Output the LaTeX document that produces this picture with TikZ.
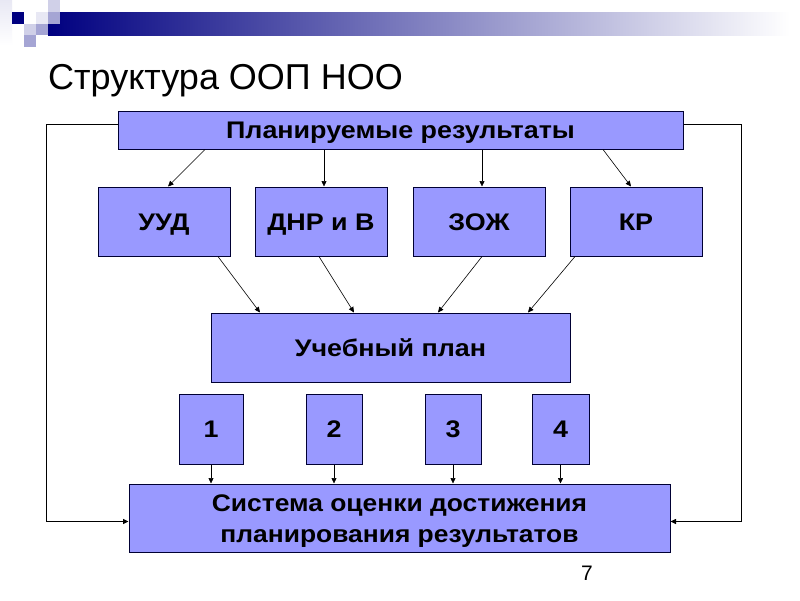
\documentclass[tikz,border=0pt]{standalone}
\usepackage{fontspec}
\setmainfont{Liberation Sans}
\newfontfamily\boxfont{Liberation Sans}[FakeStretch=1.12]
\newfontfamily\sysfont{Liberation Sans}[FakeStretch=1.10]
\usetikzlibrary{arrows.meta}
\definecolor{boxfill}{RGB}{153,153,255}
\definecolor{navy}{RGB}{0,0,128}
\definecolor{lav1}{RGB}{232,232,244}
\definecolor{lav2}{RGB}{208,208,232}
\definecolor{lav3}{RGB}{165,165,212}
\begin{document}
\begin{tikzpicture}[x=1pt,y=-1pt,
  boxbase/.style={draw=black!80!blue, fill=boxfill, line width=1pt, inner sep=0pt, align=center},
  box/.style={boxbase, font=\boxfont\fontsize{24}{26}\selectfont\bfseries,
    text height=17.2pt, text depth=0pt},
  conn/.style={line width=0.6pt, -{Triangle[length=5.5pt,width=5pt]}},
  back/.style={line width=0.9pt, -{Triangle[length=5.5pt,width=5pt]}}]
\useasboundingbox (0,0) rectangle (800,600);
\fill[white] (0,0) rectangle (800,600);
% header decoration
\shade[left color=navy, right color=white] (48,12) rectangle (790,35);
\shade[top color=lav1, bottom color=white] (0,0) rectangle (12,45);
\fill[navy] (12,12) rectangle (24,24);
\fill[lav2] (48,0) rectangle (60,12);
\fill[lav1] (36,12) rectangle (48,24);
\fill[lav3] (48,12) rectangle (60,24);
\fill[lav3] (36,24) rectangle (48,35);
\fill[lav2] (24,24) rectangle (36,35);
\fill[lav3] (24,35) rectangle (36,47);
% title
\node[anchor=base west, inner sep=0pt, font=\fontsize{36}{40}\selectfont] (title) at (48,89) {Структура ООП НОО};
% boxes
\node[box, minimum width=565, minimum height=38] (plan) at (400.5,130) {Планируемые результаты};
\node[box, minimum width=132, minimum height=69] (uud) at (164,221.5) {УУД};
\node[box, minimum width=132, minimum height=69] (dnr) at (321,221.5) {ДНР и В};
\node[box, minimum width=132, minimum height=69] (zozh) at (479,221.5) {ЗОЖ};
\node[box, minimum width=132, minimum height=69] (kr) at (636,221.5) {КР};
\node[box, minimum width=359, minimum height=69] (ucheb) at (390.5,347.5) {Учебный план};
\node[box, minimum width=64, minimum height=70] (n1) at (211,429) {1};
\node[box, minimum width=56, minimum height=70] (n2) at (334,429) {2};
\node[box, minimum width=56, minimum height=70] (n3) at (453,429) {3};
\node[box, minimum width=57, minimum height=70] (n4) at (560.5,429) {4};
\node[boxbase, minimum width=541, minimum height=68, font=\sysfont\fontsize{24}{31}\selectfont\bfseries]
  (sys) at (399.5,518) {\rule{0pt}{23.5pt}Система оценки достижения\\ планирования результатов};
\node[anchor=base, inner sep=0pt, font=\fontsize{21}{24}\selectfont] (page) at (587,580) {7};
% arrows top -> row 2
\draw[conn] ([xshift=-195.5pt]plan.south) -- ([xshift=4pt]uud.north);
\draw[conn] ([xshift=-76.5pt]plan.south) -- ([xshift=3pt]dnr.north);
\draw[conn] ([xshift=81.5pt]plan.south) -- ([xshift=3pt]zozh.north);
\draw[conn] ([xshift=202.5pt]plan.south) -- ([xshift=-5pt]kr.north);
% row 2 -> plan
\draw[conn] ([xshift=54pt]uud.south) -- ([xshift=-130.5pt]ucheb.north);
\draw[conn] ([xshift=-2pt]dnr.south) -- ([xshift=-36.5pt]ucheb.north);
\draw[conn] ([xshift=3pt]zozh.south) -- ([xshift=47.5pt]ucheb.north);
\draw[conn] ([xshift=-61pt]kr.south) -- ([xshift=137.5pt]ucheb.north);
% numbers -> system
\foreach \n in {n1,n2,n3,n4} \draw[conn] (\n.south) -- (\n.south |- sys.north);
% feedback
\draw[back] ([yshift=6pt]plan.west) -- ++(-71pt,0) |- ([yshift=-3.5pt]sys.west);
\draw[back] ([yshift=6pt]plan.east) -- ++(58pt,0) |- ([yshift=-3.5pt]sys.east);
\end{tikzpicture}
\end{document}
